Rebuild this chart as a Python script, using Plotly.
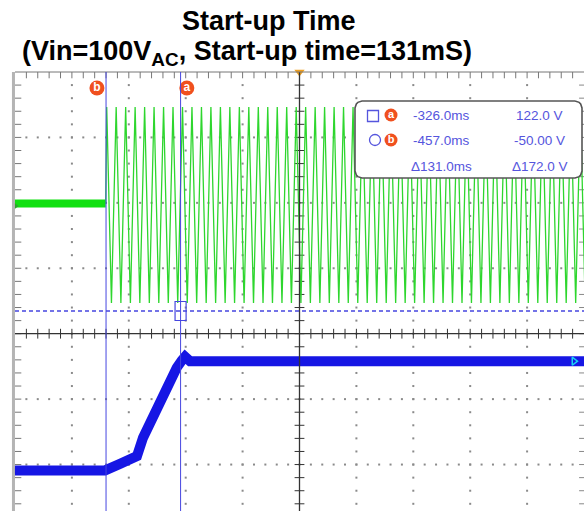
import numpy as np
import plotly.graph_objects as go

# ---------------- values ----------------
# horizontal: time in ms (100 ms / division), vertical: screen divisions
time_range_ms = [-617, 383]
div_range = [-2.71, 4.0]

cursor_a_ms = -326.0
cursor_b_ms = -457.0
cursor_level_div = 0.347

# CH1 (green, AC input) - idle level before start, then crest / trough times
green_idle_t = [-617.0, -457.6]
green_idle_v = [1.99, 1.99]
green_crest_t = [-455.8, -439.2, -422.5, -405.9, -389.2, -372.6, -355.9, -339.3, -322.6, -306.0,
                 -289.3, -272.7, -256.0, -239.4, -222.7, -206.1, -189.4, -172.8, -156.1, -139.5,
                 -122.8, -106.2, -89.5, -72.9, -56.2, -39.6, -22.9, -6.3, 10.4, 27.1,
                 43.7, 60.4, 77.0, 93.7, 110.3, 127.0, 143.6, 160.3, 176.9, 193.6,
                 210.2, 226.9, 243.5, 260.2, 276.8, 293.5, 310.1, 326.8, 343.4, 360.1, 376.7]
green_trough_t = [-447.5, -430.9, -414.2, -397.6, -380.9, -364.3, -347.6, -331.0, -314.3, -297.7,
                  -281.0, -264.4, -247.7, -231.1, -214.4, -197.8, -181.1, -164.5, -147.8, -131.2,
                  -114.5, -97.9, -81.2, -64.6, -47.9, -31.3, -14.6, 2.0, 18.7, 35.4,
                  52.0, 68.7, 85.3, 102.0, 118.6, 135.3, 151.9, 168.6, 185.2, 201.9,
                  218.5, 235.2, 251.8, 268.5, 285.1, 301.8, 318.4, 335.1, 351.7, 368.4, 385.0]
green_crest_v = 3.465
green_trough_v = 0.469

# CH2 (blue, output voltage) breakpoints
blue_t = [-617.0, -458.8, -432.5, -402.6, -392.0, -368.0, -350.4, -332.8, -324.0, -318.2, -309.4, 383.0]
blue_v = [-2.09, -2.09, -1.99, -1.87, -1.59, -1.15, -0.76, -0.52, -0.41, -0.35, -0.42, -0.42]

# cursor read-out box
readout_time = ["-326.0ms", "-457.0ms", "Δ131.0ms"]
readout_volt = ["122.0 V", "-50.00 V", "Δ172.0 V"]
cursor_labels = ["a", "b"]

title_line1 = "<b>Start-up Time</b>"
title_line2 = "<b>(Vin=100V<sub>AC</sub>, Start-up time=131mS)</b>"

# ---------------- geometry helpers ----------------
W, H = 584, 511
ML, MT = 15, 72
PW, PH = W - ML, H - MT


def px2ms(px):
    return time_range_ms[0] + (px - ML) / PW * (time_range_ms[1] - time_range_ms[0])


def py2div(py):
    return div_range[1] - (py - MT) / PH * (div_range[1] - div_range[0])


def pxp(px):
    return (px - ML) / PW


def pyp(py):
    return (H - py) / PH


GREEN = "#2ed62e"
BLUE = "#1616e4"
CURS = "#4646e0"
ORANGE = "#f0501e"
TXT = "#5555dd"

fig = go.Figure()

# ---- graticule dots ----
t0 = time_range_ms[0]
gx, gy = [], []
for k in range(1, 10):
    if k == 5:
        continue
    xv = t0 + 100 * k
    for yv in np.arange(-2.6, 4.0, 0.2):
        gx.append(xv); gy.append(yv)
for yv in [3, 2, 1, -1, -2]:
    for xv in np.arange(t0 + 20, time_range_ms[1], 20):
        gx.append(xv); gy.append(yv)
fig.add_trace(go.Scatter(x=gx, y=gy, mode="markers", hoverinfo="skip",
                         marker=dict(symbol="square", size=2, color="#8a8a8a", line=dict(width=0))))

# ticks on the centre lines and borders
cx = t0 + 500
tx = list(np.arange(t0 + 20, time_range_ms[1], 20))
ty = list(np.arange(-2.6, 4.0, 0.2))
fig.add_trace(go.Scatter(x=tx, y=[0] * len(tx), mode="markers", hoverinfo="skip",
                         marker=dict(symbol="line-ns", size=7, line=dict(width=1, color="#333"))))
fig.add_trace(go.Scatter(x=[cx] * len(ty), y=ty, mode="markers", hoverinfo="skip",
                         marker=dict(symbol="line-ew", size=7, line=dict(width=1, color="#333"))))
fig.add_trace(go.Scatter(x=tx, y=[div_range[1]] * len(tx), mode="markers", hoverinfo="skip",
                         marker=dict(symbol="line-ns", size=9, line=dict(width=1, color="#777"))))
fig.add_trace(go.Scatter(x=[t0] * len(ty), y=ty, mode="markers", hoverinfo="skip",
                         marker=dict(symbol="line-ew", size=9, line=dict(width=1, color="#777"))))
fig.add_trace(go.Scatter(x=[time_range_ms[1]] * len(ty), y=ty, mode="markers", hoverinfo="skip",
                         marker=dict(symbol="line-ew", size=7, line=dict(width=1, color="#888"))))

# ---- CH1 green ----
fig.add_trace(go.Scatter(x=green_idle_t, y=green_idle_v, mode="lines", hoverinfo="skip",
                         line=dict(color="#11e011", width=8)))
gxs, gys = [green_idle_t[-1]], [green_idle_v[-1]]
for c, tr in zip(green_crest_t, green_trough_t):
    gxs += [c, tr]
    gys += [green_crest_v, green_trough_v]
fig.add_trace(go.Scatter(x=gxs, y=gys, mode="lines", hoverinfo="skip",
                         line=dict(color=GREEN, width=1.3)))

# ---- CH2 blue ----
fig.add_trace(go.Scatter(x=blue_t, y=blue_v, mode="lines", hoverinfo="skip",
                         line=dict(color=BLUE, width=10)))

# ---- read-out box (rounded rectangle) ----
bx0, bx1, by0, by1, r = 355, 582, 101, 178, 7
pts = []
for (cxp, cyp, a0) in [(bx1 - r, by0 + r, -90), (bx1 - r, by1 - r, 0),
                       (bx0 + r, by1 - r, 90), (bx0 + r, by0 + r, 180)]:
    for a in np.linspace(a0, a0 + 90, 6):
        pts.append((cxp + r * np.cos(np.radians(a)), cyp + r * np.sin(np.radians(a))))
pts.append(pts[0])
fig.add_trace(go.Scatter(x=[px2ms(p[0]) for p in pts], y=[py2div(p[1]) for p in pts],
                         mode="lines", fill="toself", fillcolor="white", hoverinfo="skip",
                         line=dict(color="#555", width=1.6)))

fig.add_trace(go.Scatter(x=[px2ms(373), px2ms(375)], y=[py2div(116), py2div(140)], mode="markers",
                         hoverinfo="skip",
                         marker=dict(symbol=["square-open", "circle-open"], size=11,
                                     color=TXT, line=dict(width=1.3, color=TXT))))
fig.add_trace(go.Scatter(x=[px2ms(391), px2ms(391)], y=[py2div(115), py2div(140)],
                         mode="markers+text", text=[f"<b>{s}</b>" for s in cursor_labels],
                         textposition="middle center", hoverinfo="skip",
                         textfont=dict(color="white", size=11, family="Liberation Sans"),
                         marker=dict(size=13, color=ORANGE)))

# cursor labels on the screen
fig.add_trace(go.Scatter(x=[cursor_b_ms - 16, cursor_a_ms + 11], y=[py2div(88)] * 2,
                         mode="markers+text", text=["<b>b</b>", "<b>a</b>"],
                         textposition="middle center", hoverinfo="skip", cliponaxis=False,
                         textfont=dict(color="white", size=12, family="Liberation Sans"),
                         marker=dict(size=15, color=ORANGE)))
# trigger marker & channel markers
fig.add_trace(go.Scatter(x=[cx], y=[div_range[1]], mode="markers", cliponaxis=False, hoverinfo="skip",
                         marker=dict(symbol="triangle-down", size=9, color="#f0a020")))
fig.add_trace(go.Scatter(x=[t0, t0], y=[green_idle_v[0] - 0.04, blue_v[0]], mode="markers",
                         cliponaxis=False, hoverinfo="skip",
                         marker=dict(symbol="triangle-right", size=7, color=["#30a030", BLUE])))
fig.add_trace(go.Scatter(x=[px2ms(574)], y=[blue_v[-1]], mode="markers", hoverinfo="skip",
                         marker=dict(symbol="triangle-right-open", size=7,
                                     line=dict(width=1.5, color="white"))))

# ---- shapes: centre lines, borders, cursors ----
shapes = [
    dict(type="line", xref="x", yref="paper", x0=cx, x1=cx, y0=0, y1=1,
         line=dict(color="#333", width=1.3), layer="above"),
    dict(type="line", xref="paper", yref="y", x0=0, x1=1, y0=0, y1=0,
         line=dict(color="#333", width=1.3), layer="above"),
    dict(type="line", xref="paper", yref="paper", x0=0, x1=1, y0=1, y1=1,
         line=dict(color="#777", width=1), layer="above"),
    dict(type="line", xref="paper", yref="paper", x0=-0.0027, x1=-0.0027, y0=0, y1=1,
         line=dict(color="#b4b4b4", width=3), layer="above"),
    dict(type="line", xref="x", yref="paper", x0=cursor_b_ms, x1=cursor_b_ms, y0=0, y1=1,
         line=dict(color=CURS, width=1), layer="above"),
    dict(type="line", xref="x", yref="paper", x0=cursor_a_ms, x1=cursor_a_ms, y0=0, y1=1,
         line=dict(color=CURS, width=1), layer="above"),
    dict(type="line", xref="paper", yref="y", x0=0, x1=1, y0=cursor_level_div, y1=cursor_level_div,
         line=dict(color=CURS, width=1.4, dash="4px,3px"), layer="above"),
    dict(type="rect", xref="x", yref="y", x0=cursor_a_ms - 9.7, x1=cursor_a_ms + 9.7,
         y0=cursor_level_div - 0.145, y1=cursor_level_div + 0.145,
         line=dict(color=CURS, width=1.2), layer="above"),
]

# ---- annotations ----
ann = [
    dict(text=title_line1, x=pxp(180), y=pyp(20.5), xanchor="left", yanchor="middle",
         font=dict(family="Liberation Sans, Arial", size=27, color="black")),
    dict(text=title_line2, x=pxp(20), y=pyp(53), xanchor="left", yanchor="middle",
         font=dict(family="Liberation Sans, Arial", size=27, color="black")),
]
rows_y = [115, 140, 166]
for s, yy in zip(readout_time, rows_y):
    ann.append(dict(text=s, x=pxp(441), y=pyp(yy), xanchor="center", yanchor="middle",
                    font=dict(family="Liberation Sans, Arial", size=13.5, color=TXT)))
for s, yy in zip(readout_volt, rows_y):
    ann.append(dict(text=s, x=pxp(539.5), y=pyp(yy), xanchor="center", yanchor="middle",
                    font=dict(family="Liberation Sans, Arial", size=13.5, color=TXT)))
for a in ann:
    a.update(xref="paper", yref="paper", showarrow=False)

fig.update_layout(
    width=W, height=H, autosize=False,
    margin=dict(l=ML, r=0, t=MT, b=0, pad=0),
    paper_bgcolor="white", plot_bgcolor="white",
    showlegend=False,
    xaxis=dict(range=time_range_ms, showgrid=False, zeroline=False, showticklabels=False,
               showline=False, ticks="", fixedrange=True),
    yaxis=dict(range=div_range, showgrid=False, zeroline=False, showticklabels=False,
               showline=False, ticks="", fixedrange=True),
    shapes=shapes, annotations=ann,
)

fig.write_html("out.html")
